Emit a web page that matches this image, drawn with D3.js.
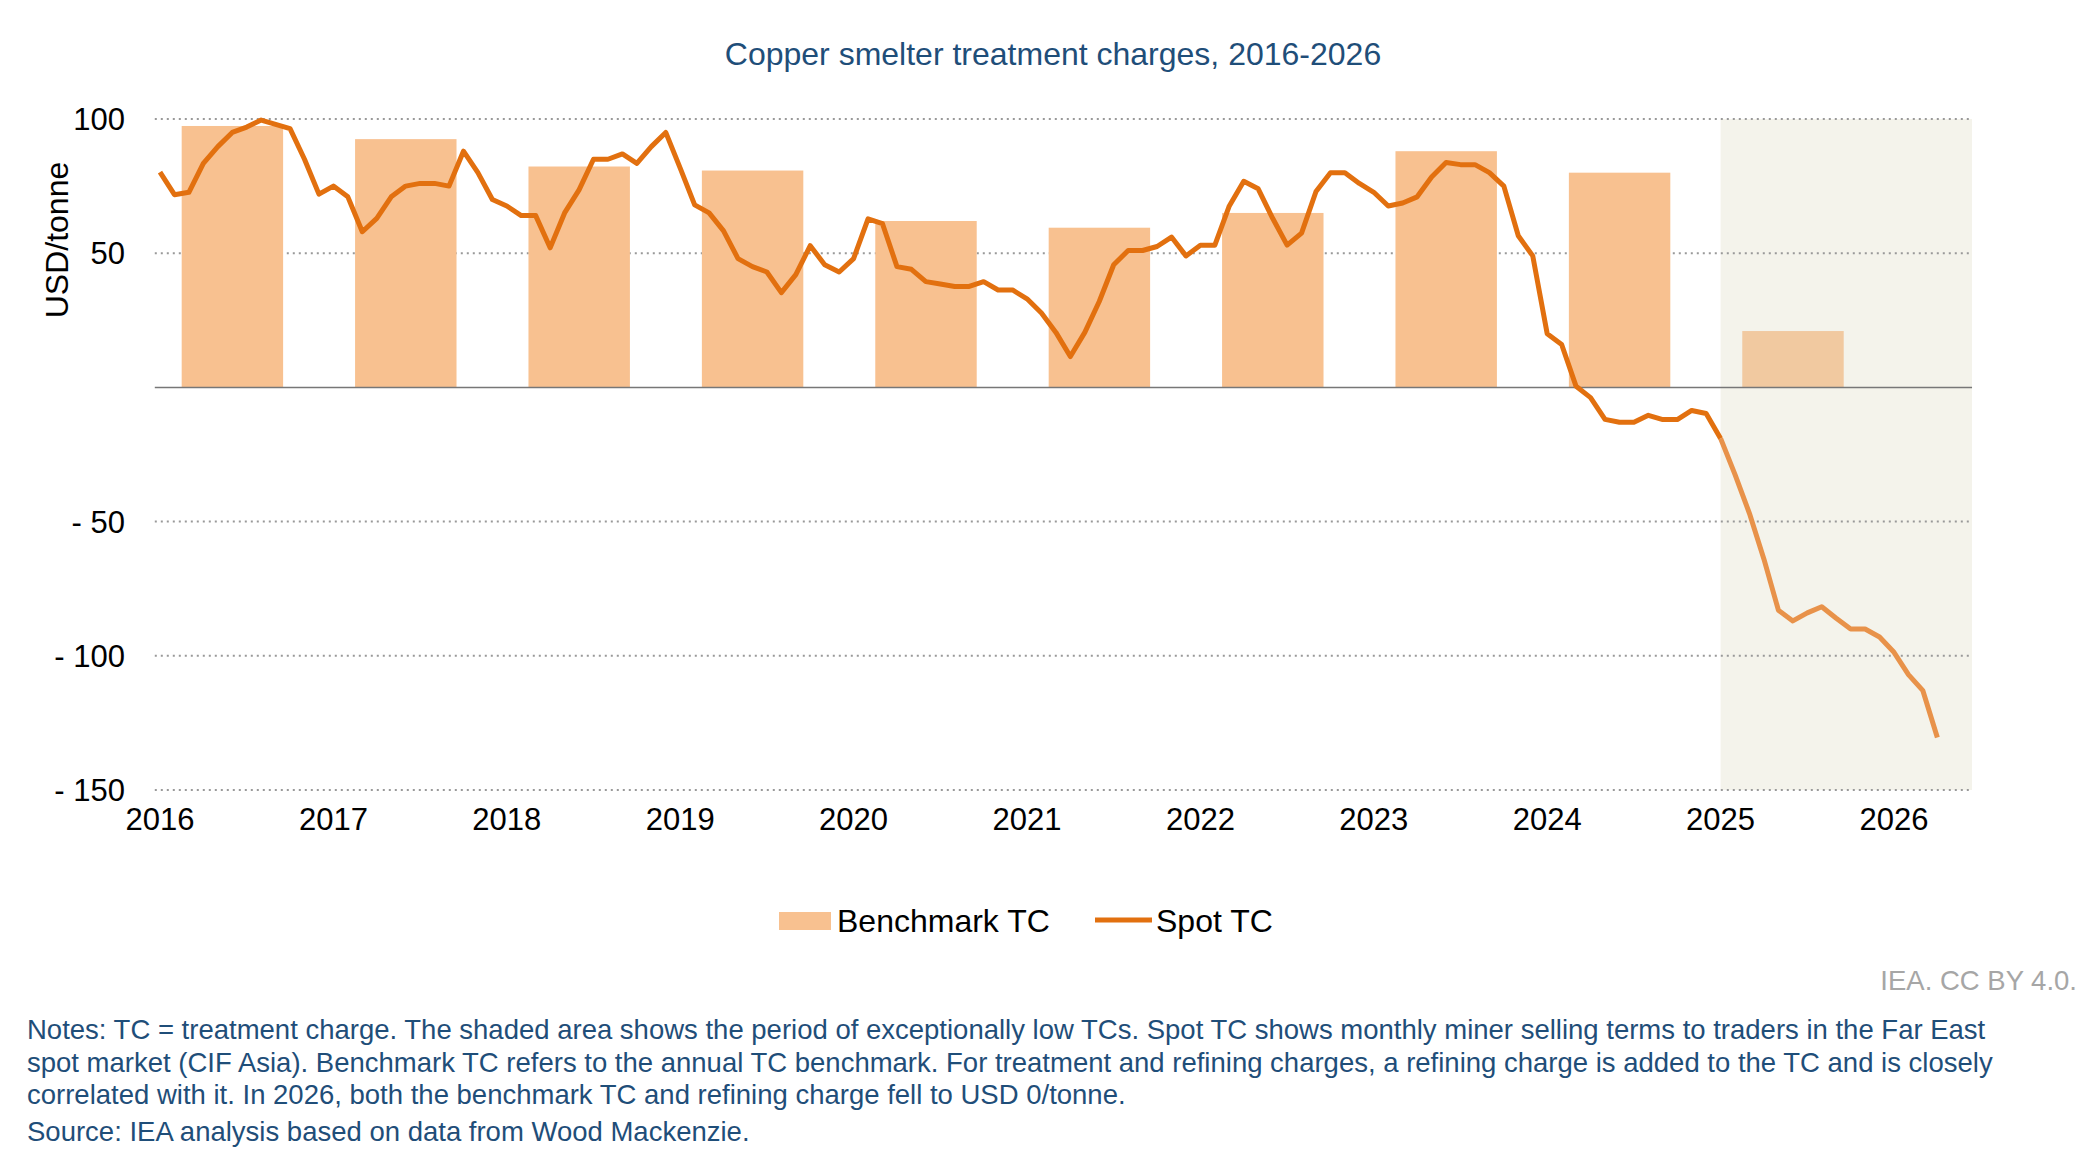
<!DOCTYPE html>
<html><head><meta charset="utf-8">
<script src="https://cdn.jsdelivr.net/npm/d3@7"></script>
<style>body{margin:0;background:#fff}svg{font-family:"Liberation Sans",Arial,sans-serif}</style>
</head><body><svg id="c" width="2100" height="1170"></svg>
<script>
const benchYears=[2016,2017,2018,2019,2020,2021,2022,2023,2024,2025];
const benchValues=[97.4,92.5,82.3,80.8,62,59.5,65,88,80,21];
const spotTC=[80.2,71.8,72.7,83.5,89.7,95,97,99.6,98,96.4,85,72,
75,71,58,63,71,75,76,76,75,88,80,70,
67.6,64,64,52,65,73.6,85,85,87,83.5,89.7,95,
81.7,68,65,58.3,48,45,43,35.3,42,52.8,45.7,43,
48,62.8,61,45,44,39.4,38.5,37.6,37.6,39.4,36.3,36.3,
33,27.7,20.5,11.5,20.5,32,45.7,51,51,52.5,56,49,
53,53,67.6,76.8,74,63,53,57.5,73,80,80,76,
72.7,67.6,68.7,71,78.4,83.8,83,83,80,75,56.5,49,
20,16,0.4,-3.8,-11.9,-13,-13,-10.4,-12,-12,-8.6,-9.7,
-19,-32.5,-47,-64,-83,-87,-84,-81.7,-86,-90,-90,-93,
-98.7,-107,-113,-130.4];
const yTicks=[100,50,-50,-100,-150];
const xTicks=[2016,2017,2018,2019,2020,2021,2022,2023,2024,2025,2026];

const svg=d3.select("#c");
const x=d3.scaleLinear().domain([2016,2026]).range([160,1894]);
const y=d3.scaleLinear().domain([-150,100]).range([790,119]);
const xL=x(2015.97), xR=x(2026.45);

svg.append("text").attr("x",1053).attr("y",65).attr("text-anchor","middle")
 .attr("font-size",32).attr("fill","#1f4e79").text("Copper smelter treatment charges, 2016-2026");

svg.append("rect").attr("x",x(2025)).attr("y",y(100)).attr("width",xR-x(2025)).attr("height",y(-150)-y(100)).attr("fill","#f4f3eb");

svg.selectAll(".g").data(yTicks).join("line").attr("x1",xL).attr("x2",xR)
 .attr("y1",d=>y(d)).attr("y2",d=>y(d)).attr("stroke","#999").attr("stroke-width",2).attr("stroke-dasharray","2,4");

svg.selectAll(".b").data(benchYears).join("rect")
 .attr("x",d=>x(d+0.125)).attr("width",x(2016.71)-x(2016.125))
 .attr("y",(d,i)=>y(benchValues[i])).attr("height",(d,i)=>y(0)-y(benchValues[i]))
 .attr("fill",d=>d===2025?"#f1c9a0":"#f8c190");

svg.append("line").attr("x1",xL).attr("x2",xR).attr("y1",y(0)).attr("y2",y(0)).attr("stroke","#777").attr("stroke-width",1.5);

const pts=spotTC.map((v,i)=>[2016+i/12,v]);
const line=d3.line().x(d=>x(d[0])).y(d=>y(d[1]));
svg.append("path").attr("d",line(pts.slice(0,109))).attr("fill","none").attr("stroke","#e2700f").attr("stroke-width",5).attr("stroke-linejoin","round");
svg.append("path").attr("d",line(pts.slice(108))).attr("fill","none").attr("stroke","#e8924a").attr("stroke-width",5).attr("stroke-linejoin","round");

svg.selectAll(".yt").data(yTicks).join("text").attr("x",125).attr("y",d=>y(d)+11).attr("text-anchor","end")
 .attr("font-size",31).attr("fill","#000").text(d=>d<0?"- "+(-d):d);
svg.selectAll(".xt").data(xTicks).join("text").attr("x",d=>x(d)).attr("y",830).attr("text-anchor","middle")
 .attr("font-size",31).attr("fill","#000").text(d=>d);
svg.append("text").attr("transform","translate(68,240) rotate(-90)").attr("text-anchor","middle")
 .attr("font-size",32).attr("fill","#000").text("USD/tonne");

svg.append("rect").attr("x",779).attr("y",912).attr("width",52).attr("height",18).attr("fill","#f8c190");
svg.append("text").attr("x",837).attr("y",932).attr("font-size",32).text("Benchmark TC");
svg.append("line").attr("x1",1095).attr("x2",1152).attr("y1",920).attr("y2",920).attr("stroke","#e2700f").attr("stroke-width",5);
svg.append("text").attr("x",1156).attr("y",932).attr("font-size",32).text("Spot TC");

svg.append("text").attr("x",2077).attr("y",990).attr("text-anchor","end").attr("font-size",27.5).attr("fill","#a6a6a6").text("IEA. CC BY 4.0.");

const notes=["Notes: TC = treatment charge. The shaded area shows the period of exceptionally low TCs. Spot TC shows monthly miner selling terms to traders in the Far East",
"spot market (CIF Asia). Benchmark TC refers to the annual TC benchmark. For treatment and refining charges, a refining charge is added to the TC and is closely",
"correlated with it. In 2026, both the benchmark TC and refining charge fell to USD 0/tonne."];
notes.forEach((t,i)=>svg.append("text").attr("x",27).attr("y",1039+i*32.5).attr("font-size",27.5).attr("fill","#1f4e79").text(t));
svg.append("text").attr("x",27).attr("y",1141).attr("font-size",27.5).attr("fill","#1f4e79").text("Source: IEA analysis based on data from Wood Mackenzie.");
</script></body></html>
